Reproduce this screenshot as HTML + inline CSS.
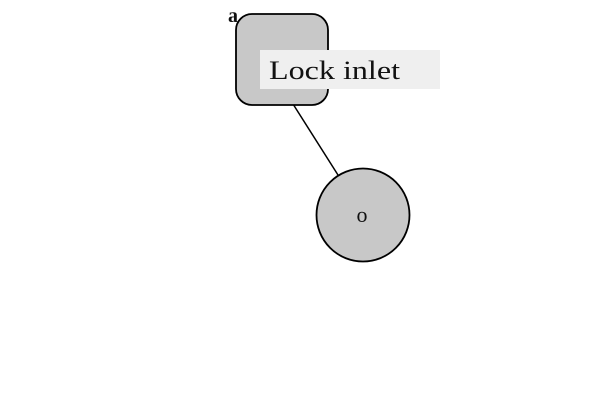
<!DOCTYPE html>
<html><head><style>body{margin:0;background:#fff}</style></head><body>
<svg width="600" height="400" xmlns="http://www.w3.org/2000/svg" style="display:block">
<line x1="293" y1="104" x2="338" y2="175" stroke="#000" stroke-width="1.5"/>
<rect x="236" y="14" width="92" height="91" rx="16" fill="#c8c8c8" stroke="#000" stroke-width="1.8"/>
<rect x="260" y="50" width="180" height="39" fill="#efefef"/>
<text x="269" y="79" font-family="Liberation Serif, serif" font-size="26" fill="#111" textLength="131" lengthAdjust="spacingAndGlyphs">Lock inlet</text>
<text x="228" y="22" font-family="Liberation Serif, serif" font-size="20" font-weight="bold" fill="#111">a</text>
<circle cx="363" cy="215" r="46.5" fill="#c8c8c8" stroke="#000" stroke-width="1.8"/>
<text x="362" y="222" text-anchor="middle" font-family="Liberation Serif, serif" font-size="22" fill="#111">o</text>
</svg>
</body></html>
